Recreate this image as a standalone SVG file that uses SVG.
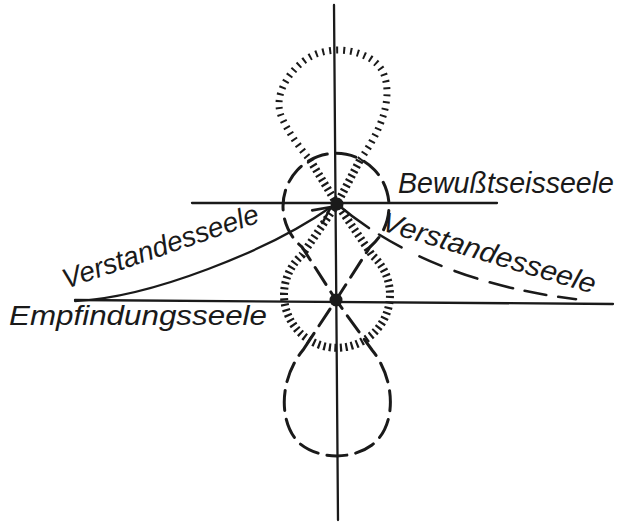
<svg xmlns="http://www.w3.org/2000/svg" width="624" height="524" viewBox="0 0 624 524">
<defs>
<marker id="arr" markerUnits="userSpaceOnUse" markerWidth="26" markerHeight="26" refX="19" refY="10" orient="auto" viewBox="0 0 24 20">
<path d="M3,2.5 L19,10 L4,17.5" fill="none" stroke="#1a1a1a" stroke-width="2.4" stroke-linecap="round" stroke-linejoin="round"/>
</marker>
<style>
.ln{fill:none;stroke:#1a1a1a;stroke-width:2.3;stroke-linecap:round}
.dash{fill:none;stroke:#1a1a1a;stroke-width:3;stroke-dasharray:20 9;stroke-linecap:round}
.hat{fill:none;stroke:#1a1a1a;stroke-width:8;stroke-dasharray:2.2 3.3}
.hat2{fill:none;stroke:#1a1a1a;stroke-width:7;stroke-dasharray:2 5}
.lbl{font-family:"Liberation Sans","DejaVu Sans",sans-serif;font-style:italic;fill:#1a1a1a}
</style>
</defs>
<rect width="624" height="524" fill="#ffffff"/>
<g id="axes">
<line class="ln" x1="334" y1="5" x2="338" y2="520"/>
<line class="ln" x1="192" y1="203" x2="497" y2="203"/>
<line class="ln" x1="75" y1="300" x2="613" y2="304"/>
</g>
<g id="hatched-figure">
<path class="hat2" d="M360,160 C378,135 395,100 383,72 C372,50 330,42 305,60 C285,75 272,100 283,120 C290,135 300,148 310,160"/>
<path class="hat" d="M310,160 L337,204 L372,255 A53,53 0 1 1 302,255 L337,204 L360,160"/>
</g>
<g id="dashed-figure">
<path class="dash" d="M303,350 L336,300 L370,247 A53,53 0 1 0 302,247 L336,300 L372,350 C395,378 398,425 372,445 C352,460 318,460 298,442 C278,420 280,378 303,350 Z"/>
</g>
<g id="connectors">
<path class="ln" d="M75,301 C150,298 270,250 331,207" marker-end="url(#arr)"/>
<path fill="none" stroke="#1a1a1a" stroke-width="2.6" stroke-linecap="round" stroke-dasharray="40 12 26 20 24 14 24 13 24 12 22 12 18 30" d="M337,204 C385,245 470,292 605,302"/>
</g>
<g id="node-upper">
<circle cx="337" cy="204" r="6.5" fill="#1a1a1a"/>
</g>
<g id="node-lower">
<circle cx="336" cy="300" r="6.5" fill="#1a1a1a"/>
</g>
<g id="labels">
<text class="lbl" x="398" y="193" font-size="29" textLength="216" lengthAdjust="spacingAndGlyphs">Bewußtseisseele</text>
<text class="lbl" transform="translate(380,230) rotate(16.7)" font-size="28" textLength="222" lengthAdjust="spacingAndGlyphs">Verstandesseele</text>
<text class="lbl" transform="translate(66,289) rotate(-19)" font-size="28" textLength="206" lengthAdjust="spacingAndGlyphs">Verstandesseele</text>
<text class="lbl" x="9" y="325" font-size="28" textLength="258" lengthAdjust="spacingAndGlyphs">Empfindungsseele</text>
</g>
</svg>
